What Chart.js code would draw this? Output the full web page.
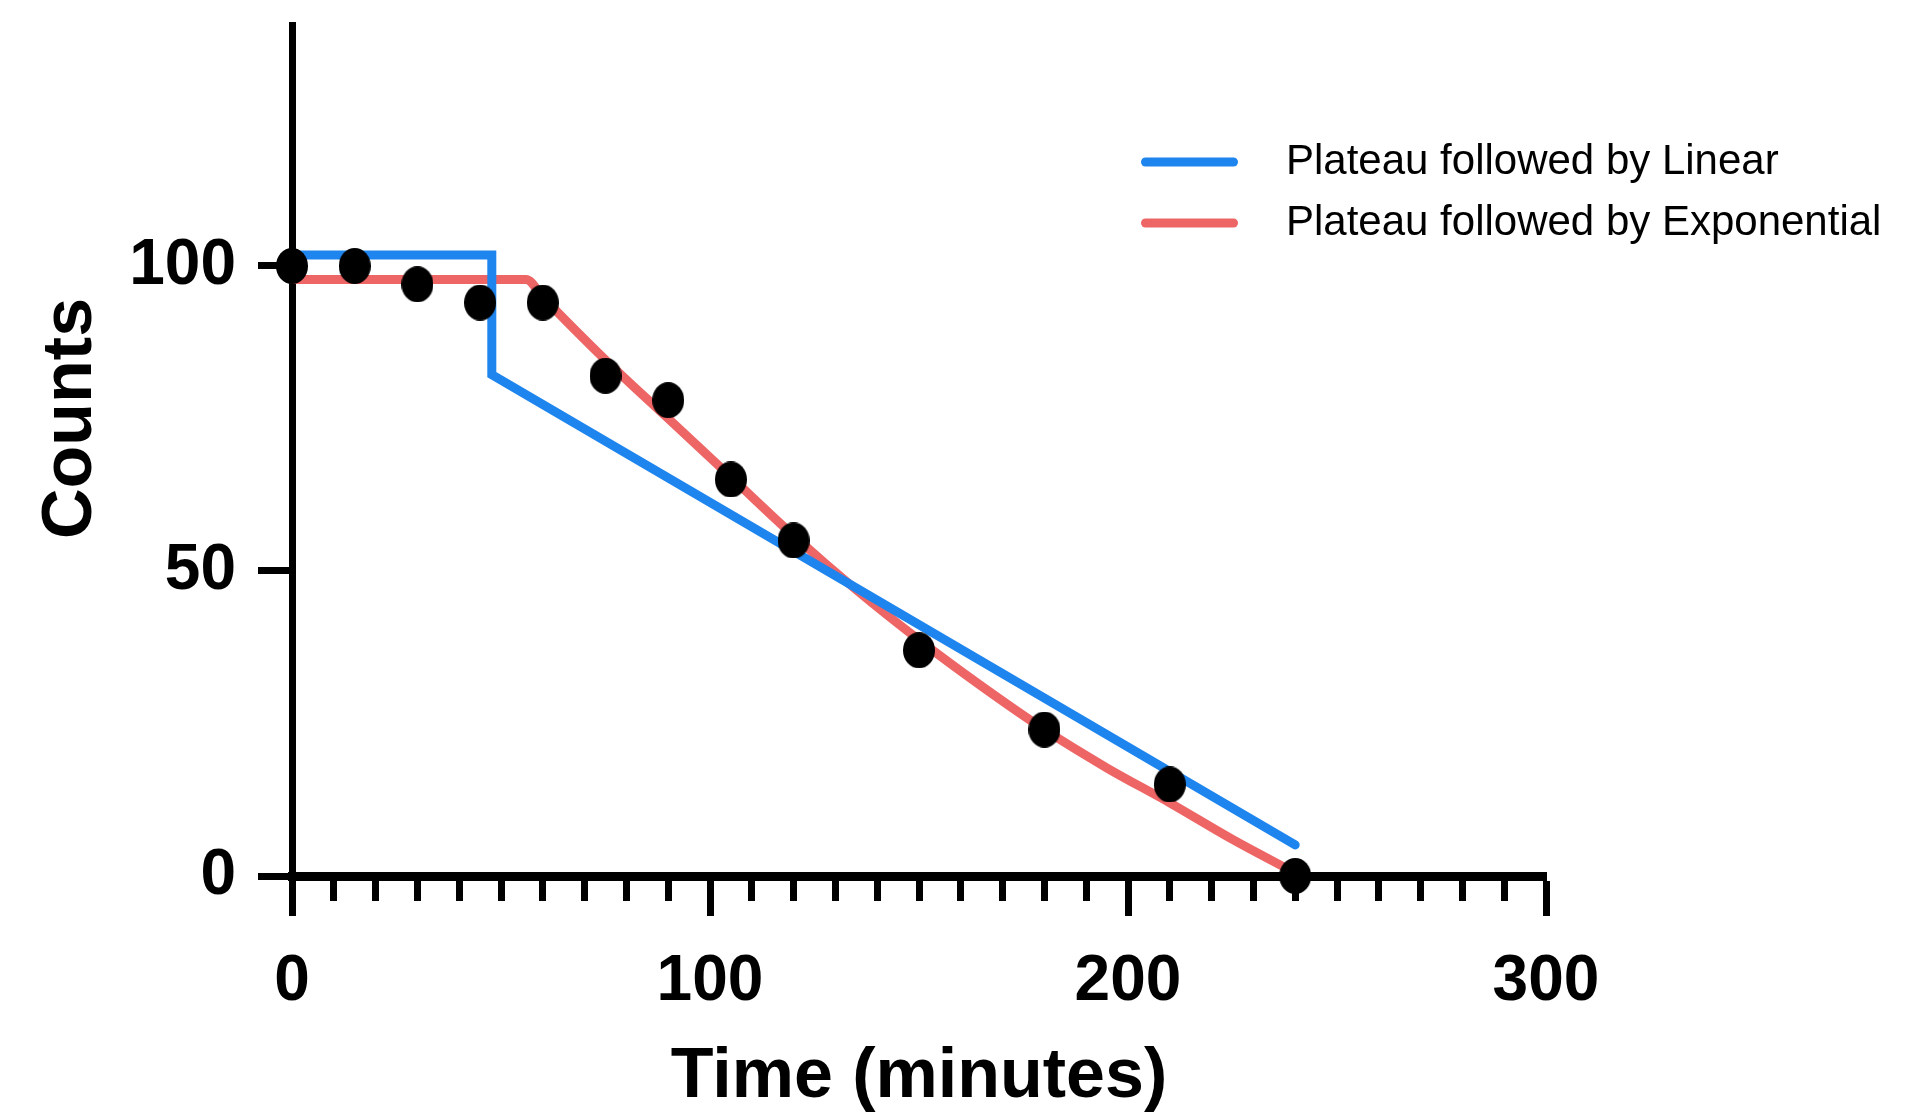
<!DOCTYPE html>
<html>
<head>
<meta charset="utf-8">
<script src="https://cdn.jsdelivr.net/npm/chart.js@4"></script>
<style>
  html, body { margin: 0; padding: 0; background: #fff; }
  #wrap { position: relative; width: 1906px; height: 1117px; }
</style>
</head>
<body>
<div id="wrap"><canvas id="chart" width="1906" height="1117"></canvas></div>
<script>
// measured counts
const timePoints = [0, 15, 30, 45, 60, 75, 90, 105, 120, 150, 180, 210, 240];
const countValues = [100, 100, 97, 94, 94, 82, 78, 65, 55, 37, 24, 15, 0];

// fitted curves
const linearFitX = [0, 47.8, 47.8, 240];
const linearFitY = [101.8, 101.8, 82.2, 5.1];
const expFitX = [0, 56, 60, 75, 90, 105, 120, 135, 150, 165, 180, 195, 210, 225, 240];
const expFitY = [97.8, 97.8, 94.9, 84.6, 75.0, 65.4, 55.8, 46.9, 38.7, 31.1, 24.0, 17.7, 12.0, 6.0, 0.5];

const seriesLabels = ['Plateau followed by Linear', 'Plateau followed by Exponential'];
const xMajorTicks = [0, 100, 200, 300];
const xMinorStep = 10;
const yTicks = [0, 50, 100];
const xTitle = 'Time (minutes)';
const yTitle = 'Counts';

const BLUE = '#1e85ee';
const RED = '#ee6565';
const SANS = '"Liberation Sans", Arial, Helvetica, sans-serif';

// slightly tall dot, like the original
const dot = document.createElement('canvas');
dot.width = 32;
dot.height = 36;
const dctx = dot.getContext('2d');
dctx.fillStyle = '#000';
dctx.beginPath();
dctx.ellipse(16, 18, 16, 18, 0, 0, Math.PI * 2);
dctx.fill();

const toXY = (xs, ys) => xs.map((x, i) => ({ x, y: ys[i] }));

const countsTitle = {
  id: 'countsTitle',
  afterDraw(chart) {
    const ctx = chart.ctx;
    const yScale = chart.scales.y;
    ctx.save();
    ctx.translate(72, yScale.getPixelForValue(75));
    ctx.rotate(-Math.PI / 2);
    ctx.font = 'bold 70px ' + SANS;
    ctx.textAlign = 'center';
    ctx.textBaseline = 'middle';
    ctx.fillStyle = '#000';
    ctx.fillText(yTitle, 0, 0);
    ctx.restore();
  }
};

const fitLegend = {
  id: 'fitLegend',
  afterDraw(chart) {
    const ctx = chart.ctx;
    const items = chart.data.datasets.filter((d) => d.showLine);
    ctx.save();
    ctx.font = '42px ' + SANS;
    ctx.textBaseline = 'middle';
    items.forEach((d, i) => {
      const y = 162 + i * 61;
      ctx.strokeStyle = d.borderColor;
      ctx.lineWidth = 9;
      ctx.lineCap = 'round';
      ctx.beginPath();
      ctx.moveTo(1145.5, y);
      ctx.lineTo(1233.5, y);
      ctx.stroke();
      ctx.fillStyle = '#000';
      ctx.fillText(d.label, 1286, y);
    });
    ctx.restore();
  }
};

new Chart(document.getElementById('chart'), {
  type: 'scatter',
  data: {
    datasets: [
      {
        label: 'Counts',
        data: toXY(timePoints, countValues),
        pointStyle: dot,
        pointRadius: 16,
        showLine: false,
        clip: false
      },
      {
        label: seriesLabels[0],
        data: toXY(linearFitX, linearFitY),
        showLine: true,
        borderColor: BLUE,
        borderWidth: 9,
        borderCapStyle: 'round',
        pointRadius: 0,
        tension: 0,
        clip: false
      },
      {
        label: seriesLabels[1],
        data: toXY(expFitX, expFitY),
        showLine: true,
        borderColor: RED,
        borderWidth: 9,
        borderCapStyle: 'round',
        borderJoinStyle: 'round',
        cubicInterpolationMode: 'monotone',
        pointRadius: 0,
        clip: false
      }
    ]
  },
  options: {
    responsive: false,
    animation: false,
    layout: { padding: { left: 0, right: 360, top: 25, bottom: 0 } },
    plugins: {
      legend: { display: false },
      tooltip: { enabled: false }
    },
    scales: {
      x: {
        type: 'linear',
        min: 0,
        max: 300,
        ticks: {
          stepSize: xMinorStep,
          autoSkip: false,
          maxRotation: 0,
          padding: 28,
          color: '#000',
          font: { family: SANS, size: 64, weight: 'bold' },
          callback: (v) => (xMajorTicks.includes(v) ? String(v) : '')
        },
        grid: {
          drawOnChartArea: false,
          tickLength: 40,
          tickWidth: 7,
          tickColor: '#000',
          tickBorderDash: (c) => (c.tick && xMajorTicks.includes(c.tick.value) ? [] : [20, 200])
        },
        border: { color: '#000', width: 9 },
        title: {
          display: true,
          text: xTitle,
          color: '#000',
          font: { family: SANS, size: 70, weight: 'bold', lineHeight: 1 },
          padding: { top: 0, bottom: 4 }
        },
        afterFit: (s) => { s.height = 241; }
      },
      y: {
        type: 'linear',
        min: 0,
        max: 139.5,
        afterBuildTicks: (s) => { s.ticks = yTicks.map((v) => ({ value: v })); },
        ticks: {
          padding: 22,
          color: '#000',
          font: { family: SANS, size: 64, weight: 'bold' }
        },
        grid: {
          drawOnChartArea: false,
          tickLength: 34,
          tickWidth: 7,
          tickColor: '#000'
        },
        border: { color: '#000', width: 7 },
        afterFit: (s) => {
          s.width = 292;
          s.paddingTop = 0;
          s.paddingBottom = 0;
        }
      }
    }
  },
  plugins: [countsTitle, fitLegend]
});
</script>
</body>
</html>
